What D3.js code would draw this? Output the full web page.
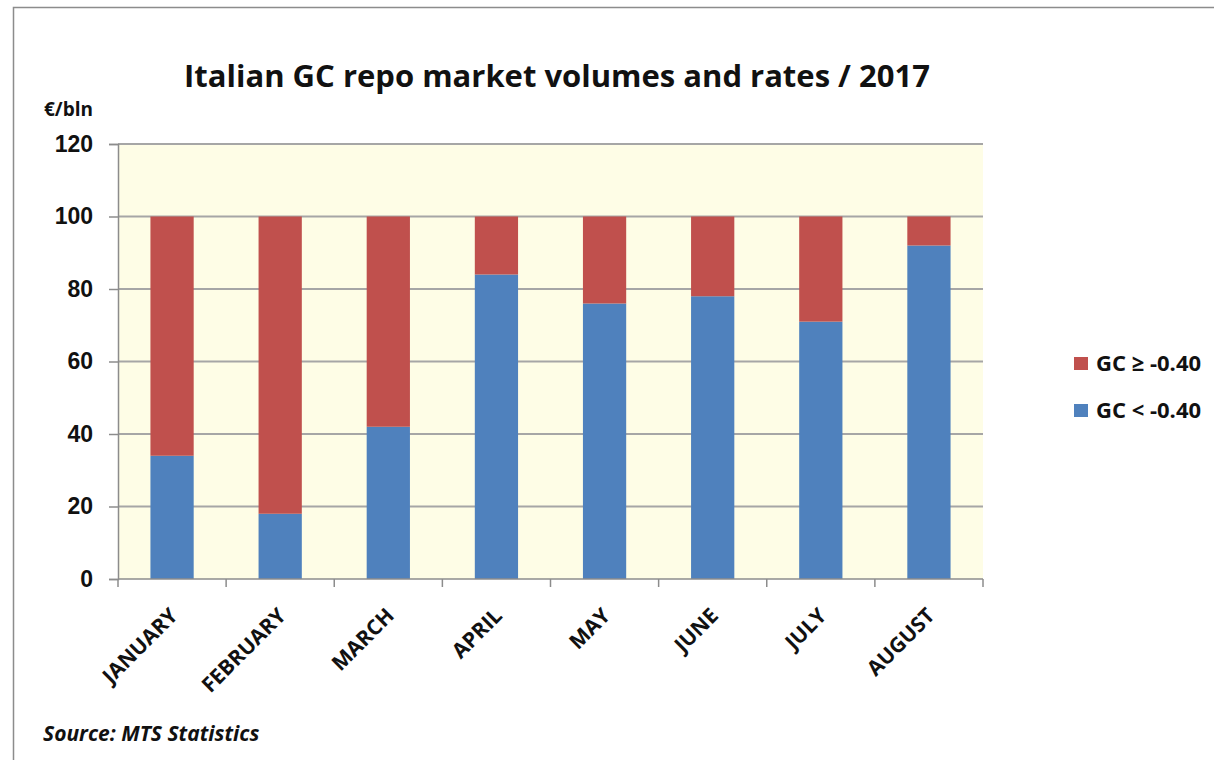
<!DOCTYPE html>
<html>
<head>
<meta charset="utf-8">
<script src="https://cdnjs.cloudflare.com/ajax/libs/d3/7.8.5/d3.min.js"></script>
<style>
  body { margin: 0; background: #fff; }
  svg { display: block; font-family: "Open Sans", "Noto Sans", sans-serif; }
</style>
</head>
<body>
<svg id="chart" width="1214" height="760"></svg>
<script>
// data
var months = ["JANUARY", "FEBRUARY", "MARCH", "APRIL", "MAY", "JUNE", "JULY", "AUGUST"];
var gcBelow = [34, 18, 42, 84, 76, 78, 71, 92];   // GC < -0.40
var gcAbove = [66, 82, 58, 16, 24, 22, 29, 8];    // GC >= -0.40
var yTicks = [0, 20, 40, 60, 80, 100, 120];
var seriesNames = ["GC \u2265 -0.40", "GC < -0.40"];
var colors = { below: "#4F81BD", above: "#C0504D" };

var svg = d3.select("#chart");
var plot = { left: 118, top: 144, right: 983, bottom: 579 };

// outer frame
svg.append("rect")
  .attr("x", 13.5).attr("y", 7.5)
  .attr("width", 1220).attr("height", 780)
  .attr("fill", "none").attr("stroke", "#8c8c8c").attr("stroke-width", 1.5);

var x = d3.scaleBand().domain(months).range([plot.left, plot.right]);
var y = d3.scaleLinear().domain([0, 120]).range([plot.bottom, plot.top]);

svg.append("rect")
  .attr("x", plot.left).attr("y", plot.top)
  .attr("width", plot.right - plot.left).attr("height", plot.bottom - plot.top)
  .attr("fill", "#FEFDE6");

// gridlines
svg.append("g").selectAll("line")
  .data(yTicks.filter(function(d) { return d > 0; }))
  .enter().append("line")
  .attr("x1", plot.left).attr("x2", plot.right)
  .attr("y1", function(d) { return y(d); }).attr("y2", function(d) { return y(d); })
  .attr("stroke", "#A6A6A6").attr("stroke-width", 2);

// stacked bars
var stackData = months.map(function(m, i) { return { month: m, below: gcBelow[i], above: gcAbove[i] }; });
var stack = d3.stack().keys(["below", "above"])(stackData);
var barW = x.bandwidth() * 0.4;

svg.append("g").selectAll("g")
  .data(stack)
  .enter().append("g")
  .attr("fill", function(s) { return colors[s.key]; })
  .selectAll("rect")
  .data(function(s) { return s; })
  .enter().append("rect")
  .attr("x", function(d) { return x(d.data.month) + (x.bandwidth() - barW) / 2; })
  .attr("width", barW)
  .attr("y", function(d) { return y(d[1]); })
  .attr("height", function(d) { return y(d[0]) - y(d[1]); });

// y axis
var yAxis = svg.append("g")
  .attr("transform", "translate(" + plot.left + ",0)")
  .call(d3.axisLeft(y).tickValues(yTicks).tickSize(9).tickPadding(16));
yAxis.selectAll("text")
  .attr("font-size", 23).attr("font-weight", "bold").attr("fill", "#111");
yAxis.selectAll("line, path").attr("stroke", "#8c8c8c").attr("stroke-width", 1.5);

// x axis: ticks on category boundaries
var xg = svg.append("g").attr("transform", "translate(0," + plot.bottom + ")");
xg.append("line")
  .attr("x1", plot.left).attr("x2", plot.right)
  .attr("stroke", "#8c8c8c").attr("stroke-width", 1.5);
var bounds = months.map(function(m) { return x(m); }).concat([plot.right]);
xg.selectAll("line.tick")
  .data(bounds).enter().append("line")
  .attr("class", "tick")
  .attr("x1", function(d) { return d; }).attr("x2", function(d) { return d; })
  .attr("y1", 0).attr("y2", 8)
  .attr("stroke", "#8c8c8c").attr("stroke-width", 1.5);
xg.selectAll("text")
  .data(months).enter().append("text")
  .attr("transform", function(d) {
    return "translate(" + (x(d) + x.bandwidth() / 2 + 7) + ",38) rotate(-45)";
  })
  .attr("text-anchor", "end")
  .attr("font-size", 21).attr("font-weight", "bold").attr("fill", "#111")
  .text(function(d) { return d; });

// title
svg.append("text")
  .attr("x", 557).attr("y", 87)
  .attr("text-anchor", "middle")
  .attr("font-size", 31).attr("font-weight", "bold").attr("fill", "#111")
  .text("Italian GC repo market volumes and rates / 2017");

// unit label
svg.append("text")
  .attr("x", 44).attr("y", 116)
  .attr("font-size", 19).attr("font-weight", "bold").attr("fill", "#111")
  .text("\u20ac/bln");

// legend
var legendItems = [
  { name: seriesNames[0], color: colors.above },
  { name: seriesNames[1], color: colors.below }
];
var lg = svg.append("g").selectAll("g")
  .data(legendItems).enter().append("g")
  .attr("transform", function(d, i) { return "translate(1074," + (357 + i * 47) + ")"; });
lg.append("rect")
  .attr("width", 14).attr("height", 13)
  .attr("fill", function(d) { return d.color; });
lg.append("text")
  .attr("x", 22).attr("y", 14)
  .attr("font-size", 22).attr("font-weight", "bold").attr("fill", "#111")
  .text(function(d) { return d.name; });

// source
svg.append("text")
  .attr("x", 43).attr("y", 741)
  .attr("font-size", 21).attr("font-weight", "bold").attr("font-style", "italic").attr("fill", "#111")
  .text("Source: MTS Statistics");
</script>
</body>
</html>
